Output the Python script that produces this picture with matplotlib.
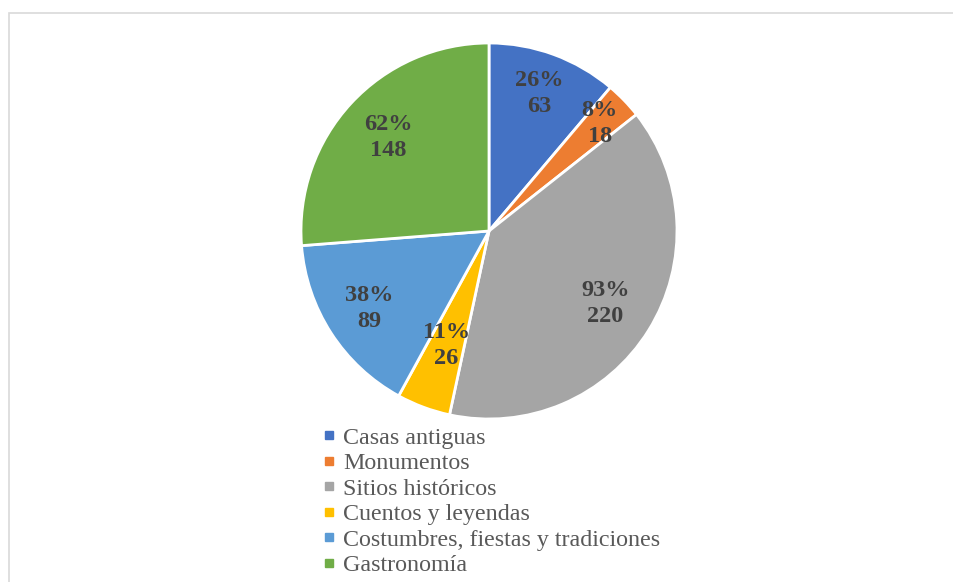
import numpy as np
import matplotlib
matplotlib.use('Agg')
import matplotlib.pyplot as plt
from matplotlib.patches import Rectangle
from matplotlib.lines import Line2D

# datos
categorias = ['Casas antiguas', 'Monumentos', 'Sitios históricos',
              'Cuentos y leyendas', 'Costumbres, fiestas y tradiciones',
              'Gastronomía']
valores = [63, 18, 220, 26, 89, 148]
porcentajes = ['26%', '8%', '93%', '11%', '38%', '62%']
colores = ['#4472C4', '#ED7D31', '#A5A5A5', '#FFC000', '#5B9BD5', '#70AD47']

plt.rcParams['font.family'] = ['Liberation Serif', 'DejaVu Serif']
color_texto = '#404040'
color_leyenda = '#595959'

W, H = 954, 582
fig = plt.figure(figsize=(W / 100, H / 100), dpi=100)

# marco del grafico
fig.patches.append(Rectangle((9 / W, -0.1), 1.0, 1 - 13 / H + 0.1,
                             transform=fig.transFigure, fill=False,
                             edgecolor='#D9D9D9', linewidth=1.2))

# pastel
cx, cy, r = 489, H - 231, 188
ax = fig.add_axes([(cx - r) / W, (cy - r) / H, 2 * r / W, 2 * r / H])
wedges, _ = ax.pie(valores, colors=colores, startangle=90, counterclock=False,
                   wedgeprops=dict(edgecolor='white', linewidth=2))
ax.set_xlim(-1, 1)
ax.set_ylim(-1, 1)
ax.axis('off')

# etiquetas de datos
dist = [0.78, 0.82, 0.73, 0.65, 0.76, 0.73]
for w, p, v, d in zip(wedges, porcentajes, valores, dist):
    ang = np.deg2rad((w.theta1 + w.theta2) / 2)
    ax.text(d * np.cos(ang), d * np.sin(ang), '%s\n%d' % (p, v),
            ha='center', va='center', fontsize=17.5, fontweight='bold',
            color=color_texto, linespacing=1.3)

# leyenda
handles = [Line2D([], [], marker='s', linestyle='none', markersize=6,
                  markerfacecolor=c, markeredgecolor=c) for c in colores]
fig.legend(handles, categorias, loc='upper left',
           bbox_to_anchor=(323 / W, 1 - 427 / H), frameon=False,
           fontsize=17.3, labelcolor=color_leyenda, handlelength=0.5,
           handletextpad=0.35, labelspacing=0.15, borderpad=0, borderaxespad=0)

plt.savefig('out.png', dpi=100)
